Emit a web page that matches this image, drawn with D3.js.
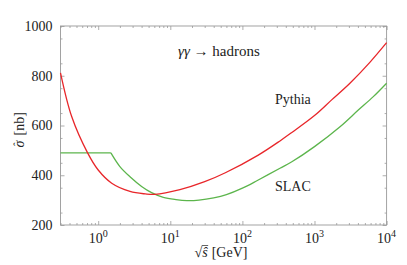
<!DOCTYPE html>
<html>
<head>
<meta charset="utf-8">
<script src="https://cdn.jsdelivr.net/npm/d3@7"></script>
<style>
  body { margin: 0; background: #fff; }
  text { font-family: "Liberation Serif", "DejaVu Serif", serif; fill: #222; }
</style>
</head>
<body>
<div id="chart"></div>
<script>
// sqrt(s) in GeV, sigma in nb
var pythiaX = [0.3, 0.43, 0.71, 1.0, 1.54, 2.76, 4.5, 6.1, 13.6, 30, 58, 166, 332, 485, 1000, 1730, 3100, 5900, 10000]
var pythiaY = [812, 635, 491, 421, 368, 335, 325, 323, 342, 374, 410, 481, 538, 572, 640, 703, 770, 855, 933]

var slacX = [0.3, 1.5, 2.0, 2.76, 4.0, 5.5, 8, 12, 17, 25, 40, 60, 100, 166, 332, 485, 1000, 2260, 4050, 6540, 10000]
var slacY = [490, 490, 435, 394, 355, 330, 311, 302, 298, 300, 309, 322, 348, 381, 428, 454, 515, 595, 662, 716, 770]

var xMajor = [1, 10, 100, 1000, 10000]
var xLabels = ["0", "1", "2", "3", "4"]
var yMajor = [200, 400, 600, 800, 1000]

var W = 407, H = 265
var margin = {top: 26, right: 20.4, bottom: 40, left: 60.5}
var width = W - margin.left - margin.right,
    height = H - margin.top - margin.bottom

var svg = d3.select("#chart").append("svg")
    .attr("width", W)
    .attr("height", H)
  .append("g")
    .attr("transform", "translate(" + margin.left + "," + margin.top + ")")

var x = d3.scaleLog().domain([0.3, 10000]).range([0, width])
var y = d3.scaleLinear().domain([200, 1000]).range([height, 0])

// minor ticks
var xMinor = []
for (var e = -1; e < 4; e++) {
  for (var m = 2; m < 10; m++) {
    var v = m * Math.pow(10, e)
    if (v >= 0.3) xMinor.push(v)
  }
}
var yMinor = d3.range(250, 1000, 100)

function tickGroup(axis, tx, ty) {
  var g = svg.append("g").attr("transform", "translate(" + tx + "," + ty + ")").call(axis)
  g.select(".domain").remove()
  g.attr("font-family", null)
  g.selectAll("line").attr("stroke", "#999").attr("stroke-width", 0.8)
  return g
}

// major + minor on all four sides, pointing in
tickGroup(d3.axisBottom(x).tickValues(xMajor).tickSize(-4).tickFormat(""), 0, height)
tickGroup(d3.axisBottom(x).tickValues(xMinor).tickSize(-2).tickFormat(""), 0, height)
tickGroup(d3.axisTop(x).tickValues(xMajor).tickSize(-4).tickFormat(""), 0, 0)
tickGroup(d3.axisTop(x).tickValues(xMinor).tickSize(-2).tickFormat(""), 0, 0)
tickGroup(d3.axisRight(y).tickValues(yMajor).tickSize(-4).tickFormat(""), width, 0)
tickGroup(d3.axisRight(y).tickValues(yMinor).tickSize(-2).tickFormat(""), width, 0)
tickGroup(d3.axisLeft(y).tickValues(yMinor).tickSize(-2).tickFormat(""), 0, 0)

var yAx = tickGroup(d3.axisLeft(y).tickValues(yMajor).tickSize(-4).tickPadding(8).tickFormat(d3.format("d")), 0, 0)
yAx.selectAll("text")
  .style("font-size", "14px")
  .attr("fill", "#222")

// frame
svg.append("rect")
  .attr("width", width).attr("height", height)
  .attr("fill", "none").attr("stroke", "#999").attr("stroke-width", 0.9)

// x labels 10^n
var xl = svg.append("g").selectAll("text").data(xMajor).enter().append("text")
  .attr("x", function(d) { return x(d) })
  .attr("y", height + 18)
  .attr("text-anchor", "middle")
  .style("font-size", "14px")
xl.append("tspan").text("10")
xl.append("tspan").attr("dy", -6).style("font-size", "10px")
  .text(function(d, i) { return xLabels[i] })

// x title: sqrt(s-hat) [GeV]
var xt = svg.append("g")
var root = xt.append("text").attr("x", 134).attr("y", height + 32).style("font-size", "14px").text("\u221A")
var rw = root.node().getComputedTextLength()
var sh = xt.append("text").attr("x", 134 + rw).attr("y", height + 32)
  .style("font-size", "14px").style("font-style", "italic").text("\u015D")
var sw = sh.node().getComputedTextLength()
xt.append("line")
  .attr("x1", 134 + rw - 0.5).attr("x2", 134 + rw + sw + 0.5)
  .attr("y1", height + 20.5).attr("y2", height + 20.5)
  .attr("stroke", "#222").attr("stroke-width", 0.7)
xt.append("text").attr("x", 134 + rw + sw + 4).attr("y", height + 32)
  .style("font-size", "14px").text("[GeV]")

// y title: sigma-hat [nb]
var yt = svg.append("g").attr("transform", "translate(" + (-37) + "," + (height / 2) + ") rotate(-90)")
yt.append("text").attr("x", -22).attr("y", 0).style("font-size", "14px").style("font-style", "italic").text("\u03C3")
yt.append("text").attr("x", -20.5).attr("y", -3).style("font-size", "11px").text("\u02C6")
yt.append("text").attr("x", -10).attr("y", 0).style("font-size", "14px").text("[nb]")

// curves
var line = d3.line()
  .x(function(d) { return x(d[0]) })
  .y(function(d) { return y(d[1]) })
  .curve(d3.curveCatmullRom.alpha(0.5))

var pythia = pythiaX.map(function(v, i) { return [v, pythiaY[i]] })
var slac = slacX.map(function(v, i) { return [v, slacY[i]] })

svg.append("path").datum(slac.slice(0, 2))
  .attr("fill", "none").attr("stroke", "#5cb54c").attr("stroke-width", 1.3)
  .attr("d", d3.line().x(function(d) { return x(d[0]) }).y(function(d) { return y(d[1]) }))
svg.append("path").datum(slac.slice(1))
  .attr("fill", "none").attr("stroke", "#5cb54c").attr("stroke-width", 1.3)
  .attr("d", line)

svg.append("path").datum(pythia)
  .attr("fill", "none").attr("stroke", "#e8262a").attr("stroke-width", 1.3)
  .attr("d", line)

// labels
var ann = svg.append("text").attr("x", 178 - margin.left).attr("y", 56 - margin.top).style("font-size", "15px")
ann.append("tspan").style("font-style", "italic").text("\u03B3\u03B3")
ann.append("tspan").text(" \u2192 hadrons")
svg.append("text").attr("x", 275 - margin.left).attr("y", 104 - margin.top)
  .style("font-size", "14px").text("Pythia")
svg.append("text").attr("x", 275 - margin.left).attr("y", 191 - margin.top)
  .style("font-size", "14px").text("SLAC")
</script>
</body>
</html>
